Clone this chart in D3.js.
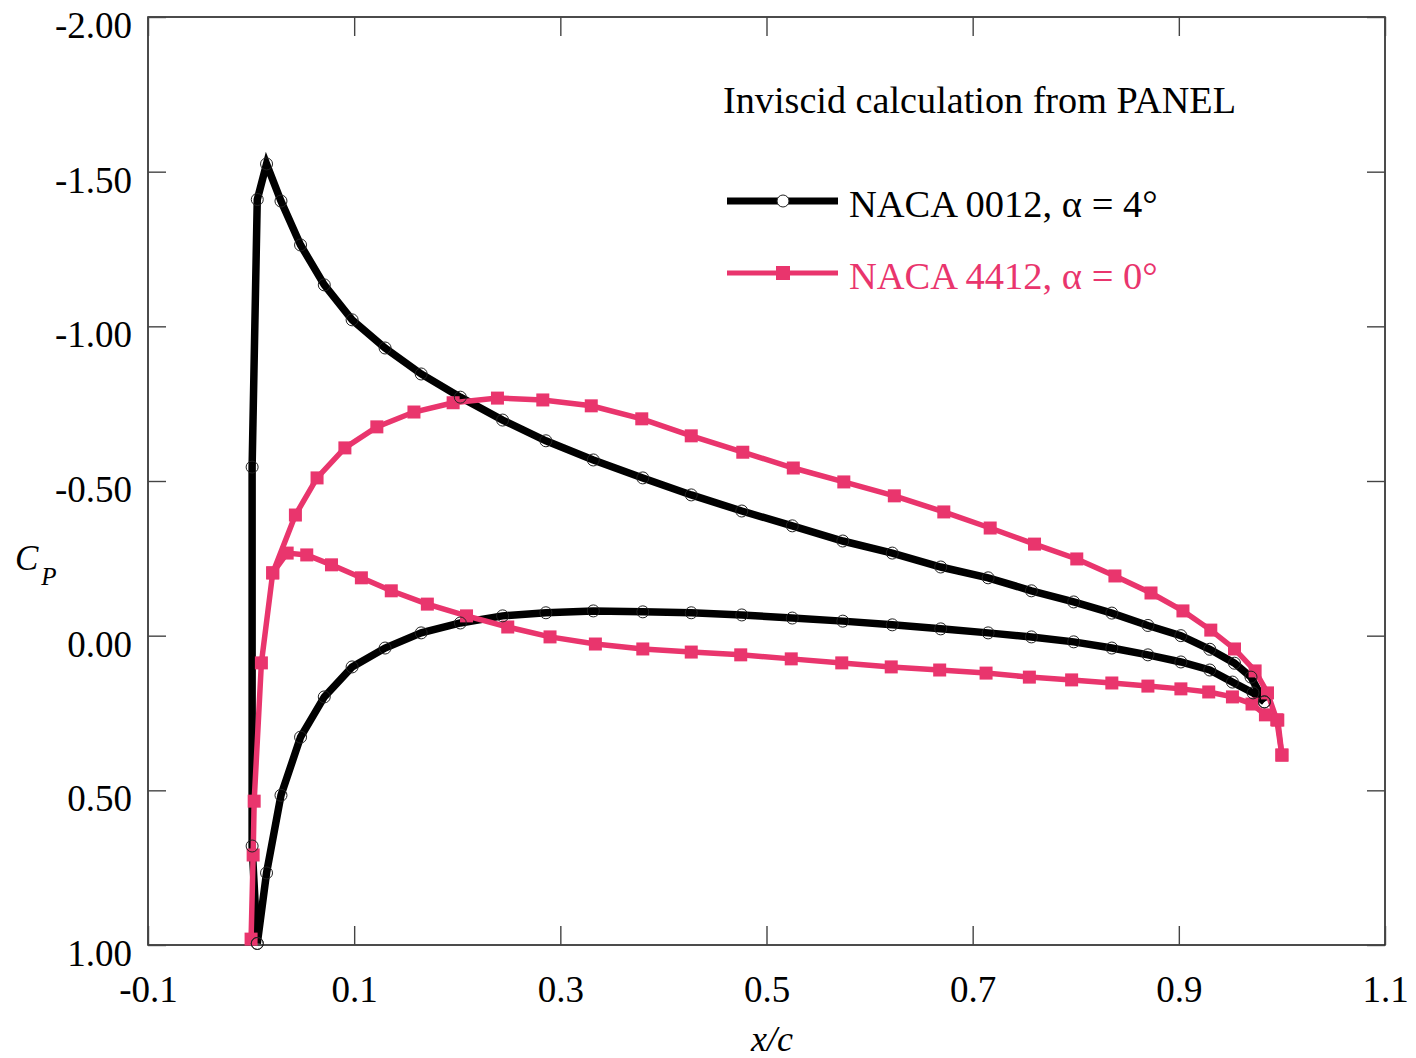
<!DOCTYPE html>
<html>
<head>
<meta charset="utf-8">
<script src="https://cdn.jsdelivr.net/npm/d3@7/dist/d3.min.js"></script>
<style>
  html, body { margin: 0; padding: 0; background: #fff; }
  svg { display: block; font-family: "Liberation Serif", "Times New Roman", serif; }
</style>
</head>
<body>
<svg id="chart" width="1416" height="1058"></svg>
<script>
// Pressure coefficient distributions, inviscid panel solution (PANEL)
// NACA 0012 at alpha = 4 deg
const n0012UpperX  = [0.006, 0.001, 0.001, 0.006, 0.015, 0.029, 0.048, 0.071, 0.098, 0.130, 0.165, 0.203, 0.244, 0.286, 0.332, 0.380, 0.427, 0.476, 0.525, 0.574, 0.622, 0.669, 0.715, 0.757, 0.798, 0.835, 0.870, 0.902, 0.930, 0.954, 0.970, 0.983];
const n0012UpperCp = [0.995, 0.680, -0.545, -1.410, -1.525, -1.405, -1.263, -1.134, -1.021, -0.930, -0.846, -0.771, -0.697, -0.630, -0.568, -0.510, -0.455, -0.403, -0.355, -0.306, -0.267, -0.222, -0.187, -0.145, -0.109, -0.073, -0.033, 0.000, 0.044, 0.089, 0.134, 0.214];
const n0012LowerX  = [0.006, 0.015, 0.029, 0.048, 0.071, 0.098, 0.130, 0.165, 0.203, 0.244, 0.286, 0.332, 0.380, 0.427, 0.476, 0.525, 0.574, 0.622, 0.669, 0.715, 0.757, 0.798, 0.835, 0.870, 0.902, 0.930, 0.952, 0.972, 0.983];
const n0012LowerCp = [0.995, 0.767, 0.516, 0.328, 0.198, 0.101, 0.040, -0.009, -0.041, -0.064, -0.074, -0.080, -0.077, -0.074, -0.067, -0.057, -0.047, -0.035, -0.022, -0.009, 0.004, 0.020, 0.040, 0.062, 0.085, 0.111, 0.150, 0.185, 0.214];

// NACA 4412 at alpha = 0 deg
const n4412UpperX  = [0.000, 0.002, 0.003, 0.010, 0.021, 0.043, 0.064, 0.091, 0.122, 0.158, 0.196, 0.239, 0.283, 0.330, 0.379, 0.427, 0.477, 0.526, 0.575, 0.624, 0.672, 0.717, 0.760, 0.801, 0.838, 0.873, 0.904, 0.931, 0.954, 0.974, 0.986, 0.995, 1.000];
const n4412UpperCp = [0.981, 0.709, 0.535, 0.088, -0.203, -0.390, -0.510, -0.607, -0.675, -0.723, -0.753, -0.768, -0.762, -0.743, -0.701, -0.646, -0.593, -0.542, -0.497, -0.452, -0.400, -0.348, -0.296, -0.248, -0.193, -0.138, -0.080, -0.018, 0.043, 0.114, 0.185, 0.272, 0.386];
const n4412LowerX  = [0.021, 0.035, 0.054, 0.078, 0.107, 0.136, 0.171, 0.209, 0.249, 0.290, 0.334, 0.380, 0.427, 0.475, 0.524, 0.573, 0.621, 0.668, 0.713, 0.755, 0.796, 0.835, 0.870, 0.902, 0.929, 0.952, 0.971, 0.984, 0.996, 1.000];
const n4412LowerCp = [-0.203, -0.267, -0.261, -0.229, -0.187, -0.145, -0.102, -0.064, -0.028, 0.004, 0.027, 0.043, 0.053, 0.062, 0.075, 0.088, 0.101, 0.111, 0.121, 0.134, 0.143, 0.153, 0.163, 0.172, 0.182, 0.198, 0.221, 0.256, 0.273, 0.386];

const xTickValues = [-0.1, 0.1, 0.3, 0.5, 0.7, 0.9, 1.1];
const yTickValues = [-2.0, -1.5, -1.0, -0.5, 0.0, 0.5, 1.0];

const legendTitle = "Inviscid calculation from PANEL";
const seriesLabels = ["NACA 0012, \u03B1 = 4\u00B0", "NACA 4412, \u03B1 = 0\u00B0"];

const BLACK = "#000000";
const PINK = "#e9356d";

const svg = d3.select("#chart");
const plot = { left: 148, right: 1385, top: 17, bottom: 945 };

const x = d3.scaleLinear().domain([-0.1, 1.1]).range([plot.left, plot.right]);
const y = d3.scaleLinear().domain([-2.0, 1.0]).range([plot.top, plot.bottom]);

// frame
svg.append("rect")
  .attr("x", plot.left).attr("y", plot.top)
  .attr("width", plot.right - plot.left).attr("height", plot.bottom - plot.top)
  .attr("fill", "none").attr("stroke", "#111").attr("stroke-width", 1.5);

const fs = 37;
function styleAxis(g, showText) {
  g.select(".domain").remove();
  g.selectAll(".tick line").attr("stroke", "#444").attr("stroke-width", 1.4);
  g.selectAll(".tick text")
    .attr("font-family", "'Liberation Serif', 'Times New Roman', serif")
    .attr("font-size", fs).attr("fill", "#000");
  if (!showText) g.selectAll(".tick text").remove();
}

const xAxisB = d3.axisBottom(x).tickValues(xTickValues).tickSize(-19).tickPadding(31).tickFormat(d => d.toFixed(1));
const xAxisT = d3.axisTop(x).tickValues(xTickValues).tickSize(-19).tickFormat("");
const yAxisL = d3.axisLeft(y).tickValues(yTickValues).tickSize(-18).tickPadding(16).tickFormat(d => d.toFixed(2));
const yAxisR = d3.axisRight(y).tickValues(yTickValues).tickSize(-18).tickFormat("");

svg.append("g").attr("transform", `translate(0,${plot.bottom})`).call(xAxisB).call(g => styleAxis(g, true));
svg.append("g").attr("transform", `translate(0,${plot.top})`).call(xAxisT).call(g => styleAxis(g, false));
svg.append("g").attr("transform", `translate(${plot.left},0)`).call(yAxisL).call(g => {
  styleAxis(g, true);
  g.selectAll(".tick text").attr("dy", "0.55em");
});
svg.append("g").attr("transform", `translate(${plot.right},0)`).call(yAxisR).call(g => styleAxis(g, false));

// axis titles
const cpLabel = svg.append("text")
  .attr("x", 15).attr("y", 570)
  .attr("font-family", "'Liberation Serif', 'Times New Roman', serif")
  .attr("font-style", "italic").attr("font-size", 35).attr("fill", "#000");
cpLabel.append("tspan").text("C");
cpLabel.append("tspan").attr("dx", 3).attr("dy", 15).attr("font-size", 25).text("P");

svg.append("text")
  .attr("x", 772).attr("y", 1051).attr("text-anchor", "middle")
  .attr("font-family", "'Liberation Serif', 'Times New Roman', serif")
  .attr("font-style", "italic").attr("font-size", 36).attr("fill", "#000")
  .text("x/c");

// series data
const zip = (xs, cs) => xs.map((v, i) => ({ x: v, cp: cs[i] }));
const s0012 = [zip(n0012UpperX, n0012UpperCp), zip(n0012LowerX, n0012LowerCp)];
const s4412 = [zip(n4412UpperX, n4412UpperCp), zip(n4412LowerX, n4412LowerCp)];

const line = d3.line().x(d => x(d.x)).y(d => y(d.cp));
const sq = 13;

const gPlot = svg.append("g");

// NACA 0012 curves
gPlot.selectAll("path.n0012").data(s0012).join("path")
  .attr("class", "n0012")
  .attr("d", line).attr("fill", "none")
  .attr("stroke", BLACK).attr("stroke-width", 7.5);

// NACA 4412 curves
gPlot.selectAll("path.n4412").data(s4412).join("path")
  .attr("class", "n4412")
  .attr("d", line).attr("fill", "none")
  .attr("stroke", PINK).attr("stroke-width", 5.5);

// NACA 4412 square markers
gPlot.selectAll("rect.m4412").data(s4412.flat()).join("rect")
  .attr("class", "m4412")
  .attr("x", d => x(d.x) - sq / 2).attr("y", d => y(d.cp) - sq / 2)
  .attr("width", sq).attr("height", sq).attr("fill", PINK);

// NACA 0012 open circle markers
gPlot.selectAll("circle.m0012").data(s0012.flat()).join("circle")
  .attr("class", "m0012")
  .attr("cx", d => x(d.x)).attr("cy", d => y(d.cp)).attr("r", 6)
  .attr("fill", "none").attr("stroke", "#222").attr("stroke-width", 1);

// legend
const legend = svg.append("g");
legend.append("text")
  .attr("x", 723).attr("y", 113)
  .attr("font-size", 38.2).attr("fill", "#000")
  .text(legendTitle);

const legendRows = [
  { label: seriesLabels[0], color: BLACK, y: 201, kind: "circle" },
  { label: seriesLabels[1], color: PINK, y: 273, kind: "square" }
];
legendRows.forEach(r => {
  legend.append("line")
    .attr("x1", 727).attr("x2", 838).attr("y1", r.y).attr("y2", r.y)
    .attr("stroke", r.color).attr("stroke-width", r.kind === "circle" ? 7 : 5);
  if (r.kind === "circle") {
    legend.append("circle").attr("cx", 783).attr("cy", r.y).attr("r", 6)
      .attr("fill", "#fff").attr("stroke", "#222").attr("stroke-width", 1);
  } else {
    legend.append("rect").attr("x", 783 - 7).attr("y", r.y - 7)
      .attr("width", 14).attr("height", 14).attr("fill", PINK);
  }
  legend.append("text")
    .attr("x", 849).attr("y", r.y + 16)
    .attr("font-size", 38.5).attr("fill", r.color)
    .text(r.label);
});
</script>
</body>
</html>
